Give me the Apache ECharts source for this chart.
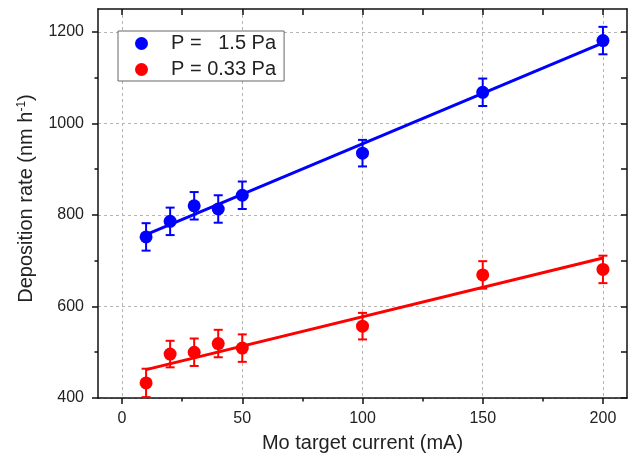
<!DOCTYPE html>
<html>
<head>
<meta charset="utf-8">
<script src="https://cdn.jsdelivr.net/npm/echarts@6/dist/echarts.min.js"></script>
<style>
  html, body { margin: 0; padding: 0; background: #fff; }
  #main { width: 635px; height: 464px; }
</style>
</head>
<body>
<div id="main"></div>
<script>
// Mo target current (mA)
const currents = [10, 20, 30, 40, 50, 100, 150, 200];
// P = 1.5 Pa
const rateHigh = [752, 786, 820, 813, 843, 935, 1068, 1181];
const errHigh = [30, 30, 30, 30, 30, 29, 30, 30];
// P = 0.33 Pa
const rateLow = [433, 496, 500, 519, 509, 557, 669, 681];
const errLow = [31, 29, 30, 30, 30, 29, 30, 30];
// linear fits, end points
const fitX = [10, 200];
const fitHigh = [757, 1176];
const fitLow = [462, 706];
// ticks
const xTicks = [0, 50, 100, 150, 200];
const yTicks = [400, 600, 800, 1000, 1200];

const FONT = '"Liberation Sans", Arial, sans-serif';
const BLUE = '#0000ff';
const RED = '#ff0000';

function errorSeries(name, rates, errs, color) {
  return {
    name: name,
    type: 'custom',
    z: 3,
    data: currents.map((x, i) => [x, rates[i] - errs[i], rates[i] + errs[i]]),
    renderItem: (params, api) => {
      const top = api.coord([api.value(0), api.value(2)]);
      const bot = api.coord([api.value(0), api.value(1)]);
      const w = 4.5;
      const st = { stroke: color, lineWidth: 2 };
      return {
        type: 'group',
        children: [
          { type: 'line', shape: { x1: top[0], y1: top[1], x2: bot[0], y2: bot[1] }, style: st },
          { type: 'line', shape: { x1: top[0] - w, y1: top[1], x2: top[0] + w, y2: top[1] }, style: st },
          { type: 'line', shape: { x1: bot[0] - w, y1: bot[1], x2: bot[0] + w, y2: bot[1] }, style: st }
        ]
      };
    }
  };
}

const frameAxis = {
  axisLine: { show: true, lineStyle: { color: '#111', width: 1.5 } },
  axisLabel: { show: false },
  splitLine: { show: false }
};

const chart = echarts.init(document.getElementById('main'), null, { renderer: 'canvas' });
chart.setOption({
  backgroundColor: '#fff',
  animation: false,
  textStyle: { fontFamily: FONT },
  grid: { left: 98, right: 8, top: 9, bottom: 66 },
  legend: {
    left: 118,
    top: 31,
    orient: 'vertical',
    data: ['P =   1.5 Pa', 'P = 0.33 Pa'],
    icon: 'circle',
    itemWidth: 13,
    itemHeight: 13,
    itemGap: 5,
    padding: [2, 8, 1, 17],
    backgroundColor: '#fff',
    borderColor: '#666',
    borderWidth: 1,
    borderRadius: 0,
    textStyle: { fontFamily: FONT, fontSize: 20, color: '#222', lineHeight: 21, padding: [0, 0, 0, 18] }
  },
  xAxis: [
    {
      type: 'value',
      min: -10,
      max: 210,
      name: 'Mo target current (mA)',
      nameLocation: 'middle',
      nameGap: 35,
      nameTextStyle: { fontFamily: FONT, fontSize: 20, color: '#222' },
      axisLine: { show: true, onZero: false, lineStyle: { color: '#111', width: 1.5 } },
      axisTick: { show: true, customValues: xTicks, length: 6, lineStyle: { color: '#111', width: 1.5 } },
      minorTick: { show: true, splitNumber: 2, length: 3.5, lineStyle: { color: '#111', width: 1.5 } },
      axisLabel: { customValues: xTicks, margin: 13, fontFamily: FONT, fontSize: 16, color: '#222' },
      splitLine: { show: true, lineStyle: { color: '#b4b4b4', width: 1, type: [3, 3] } }
    },
    Object.assign({}, frameAxis, {
      type: 'value',
      position: 'top',
      min: -10,
      max: 210,
      axisLine: { show: true, onZero: false, lineStyle: { color: '#111', width: 1.5 } },
      axisTick: { show: true, inside: true, customValues: xTicks, length: 6, lineStyle: { color: '#111', width: 1.5 } },
      minorTick: { show: true, splitNumber: 2, length: 6, lineStyle: { color: '#111', width: 1.5 } }
    })
  ],
  yAxis: [
    {
      type: 'value',
      min: 400,
      max: 1250,
      name: 'Deposition rate (nm h{sup|-1})',
      nameLocation: 'middle',
      nameGap: 53,
      nameTextStyle: {
        fontFamily: FONT, fontSize: 20, color: '#222', lineHeight: 22, padding: [0, 0, 0, 10],
        rich: { sup: { fontFamily: FONT, fontSize: 12, color: '#222', verticalAlign: 'top', lineHeight: 22, padding: [0, 0, 8, 0] } }
      },
      axisLine: { show: true, onZero: false, lineStyle: { color: '#111', width: 1.5 } },
      axisTick: { show: true, customValues: yTicks, length: 6, lineStyle: { color: '#111', width: 1.5 } },
      minorTick: { show: true, splitNumber: 2, length: 3.5, lineStyle: { color: '#111', width: 1.5 } },
      axisLabel: { customValues: yTicks, margin: 14, fontFamily: FONT, fontSize: 16, color: '#222', formatter: (v) => String(v) },
      splitLine: { show: true, lineStyle: { color: '#b4b4b4', width: 1, type: [3, 3] } }
    },
    Object.assign({}, frameAxis, {
      type: 'value',
      position: 'right',
      min: 400,
      max: 1250,
      axisLine: { show: true, onZero: false, lineStyle: { color: '#111', width: 1.5 } },
      axisTick: { show: true, inside: true, customValues: yTicks, length: 6, lineStyle: { color: '#111', width: 1.5 } },
      minorTick: { show: true, splitNumber: 2, length: 6, lineStyle: { color: '#111', width: 1.5 } }
    })
  ],
  series: [
    {
      name: 'fit high',
      type: 'line',
      z: 2,
      showSymbol: false,
      data: fitX.map((x, i) => [x, fitHigh[i]]),
      lineStyle: { color: BLUE, width: 3 }
    },
    {
      name: 'fit low',
      type: 'line',
      z: 2,
      showSymbol: false,
      data: fitX.map((x, i) => [x, fitLow[i]]),
      lineStyle: { color: RED, width: 3 }
    },
    errorSeries('err high', rateHigh, errHigh, BLUE),
    errorSeries('err low', rateLow, errLow, RED),
    {
      name: 'P =   1.5 Pa',
      type: 'scatter',
      z: 4,
      symbolSize: 13,
      itemStyle: { color: BLUE, opacity: 1 },
      data: currents.map((x, i) => [x, rateHigh[i]])
    },
    {
      name: 'P = 0.33 Pa',
      type: 'scatter',
      z: 4,
      symbolSize: 13,
      itemStyle: { color: RED, opacity: 1 },
      data: currents.map((x, i) => [x, rateLow[i]])
    }
  ]
});
</script>
</body>
</html>
